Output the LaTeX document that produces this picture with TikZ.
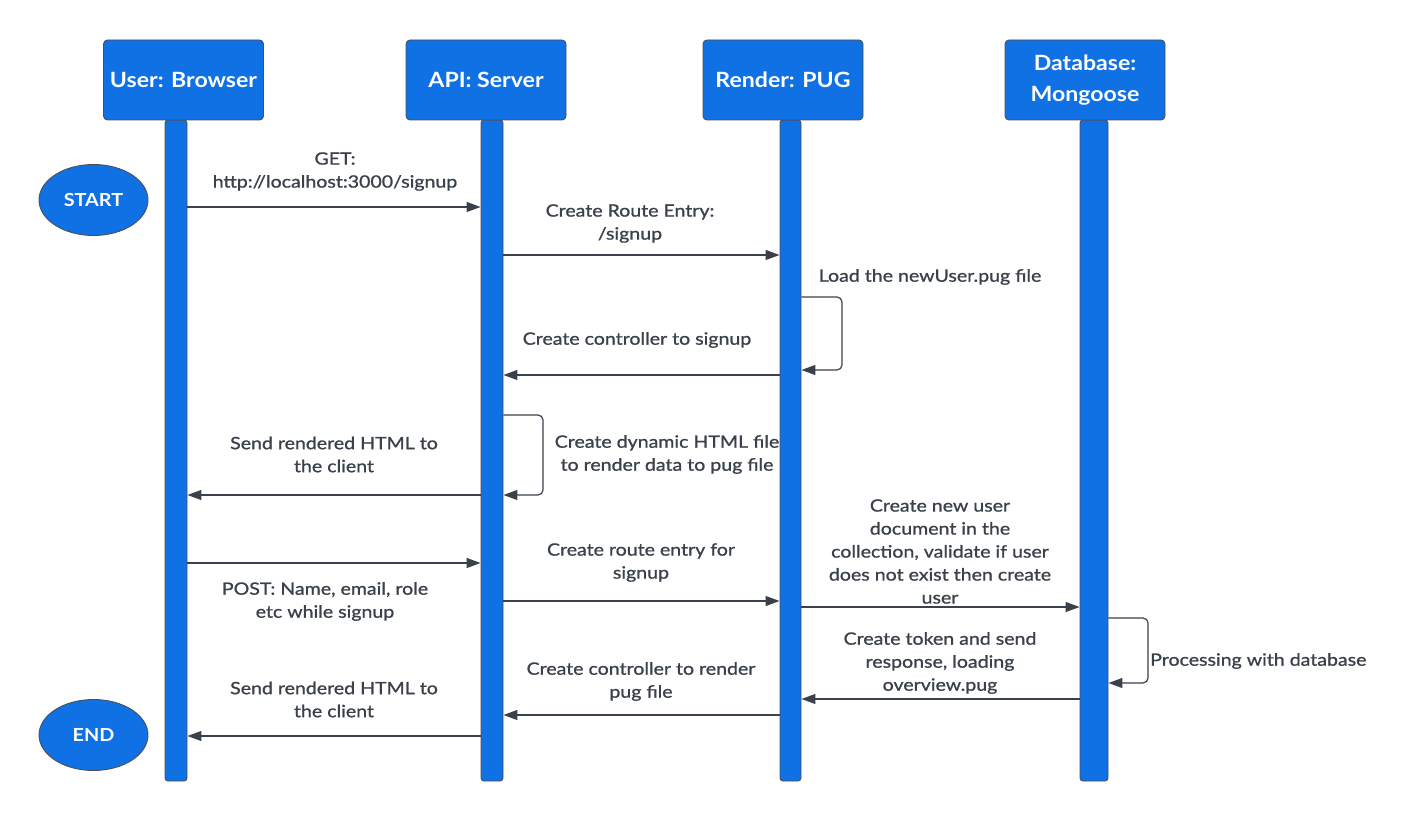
\documentclass[tikz,border=0pt]{standalone}
\usepackage{fontspec}
\setmainfont{Lato}
\newfontfamily\lblfont{Lato}[FakeStretch=1.15,FakeBold=1]
\newfontfamily\hdfont{Lato}[FakeStretch=1.1]
\usetikzlibrary{arrows.meta,shapes.geometric}
\definecolor{lblue}{HTML}{1071E5}
\definecolor{ink}{HTML}{3A414A}
\definecolor{rim}{HTML}{4A5058}
\tikzset{
  head/.style={draw=rim, line width=0.9pt, fill=lblue, rounded corners=4pt, minimum width=160pt, minimum height=80pt, text=white, align=center, font=\hdfont\fontsize{21}{31}\selectfont\bfseries, inner sep=0pt},
  lifebar/.style={draw=rim, line width=0.9pt, fill=lblue, rounded corners=3pt, minimum height=661pt, inner sep=0pt},
  term/.style={ellipse, draw=rim, line width=0.9pt, fill=lblue, minimum width=109pt, minimum height=71pt, text=white, font=\hdfont\fontsize{18}{22}\selectfont\bfseries, inner sep=0pt},
  msg/.style={draw=ink, line width=1.2pt, -{Triangle[length=14pt,width=10pt]}},
  loopmsg/.style={msg, rounded corners=5pt},
  lbl/.style={text=ink, align=center, font=\lblfont\fontsize{17}{23}\selectfont, inner sep=0pt},
}
\begin{document}
\begin{tikzpicture}[x=1pt,y=-1pt]
\useasboundingbox (0,0) rectangle (1418,821);
% lifeline bars
\node[lifebar, minimum width=22pt] (b1) at (176,450.5) {};
\node[lifebar, minimum width=22pt] (b2) at (492,450.5) {};
\node[lifebar, minimum width=21pt] (b3) at (790.5,450.5) {};
\node[lifebar, minimum width=28pt] (b4) at (1094,450.5) {};
% headers
\node[head] (h1) at (183.5,80) {User: Browser};
\node[head] (h2) at (486,80) {API: Server};
\node[head] (h3) at (783,80) {Render: PUG};
\node[head] (h4) at (1085,80) {Database:\\Mongoose};
% terminals
\node[term] (start) at (93.5,200) {START};
\node[term] (end) at (93.5,735) {END};
% messages
\draw[msg] (b1.east |- 0,207) -- (b2.west |- 0,207);
\node[lbl] (l1) at (335,171.5) {GET:\\http://localhost:3000/signup};
\draw[msg] (b2.east |- 0,255) -- (b3.west |- 0,255);
\node[lbl] (l2) at (630,223.5) {Create Route Entry:\\/signup};
\draw[loopmsg] (b3.east |- 0,297) -- (842,297) -- (842,370) -- (b3.east |- 0,370);
\node[lbl] (l3) at (930,277) {Load the newUser.pug file};
\draw[msg] (b3.west |- 0,375) -- (b2.east |- 0,375);
\node[lbl] (l4) at (637,340) {Create controller to signup};
\draw[loopmsg] (b2.east |- 0,415) -- (543,415) -- (543,495) -- (b2.east |- 0,495);
\node[lbl] (l5) at (667,454.5) {Create dynamic HTML file\\to render data to pug file};
\draw[msg] (b2.west |- 0,495) -- (b1.east |- 0,495);
\node[lbl] (l6) at (334,454.5) {Send rendered HTML to\\the client};
\draw[msg] (b1.east |- 0,563) -- (b2.west |- 0,563);
\node[lbl] (l7) at (325,601.5) {POST: Name, email, role\\etc while signup};
\draw[msg] (b2.east |- 0,601) -- (b3.west |- 0,601);
\node[lbl] (l8) at (641,562.5) {Create route entry for\\signup};
\draw[msg] (b3.east |- 0,607) -- (b4.west |- 0,607);
\node[lbl] (l9) at (940,551.5) {Create new user\\document in the\\collection, validate if user\\does not exist then create\\user};
\draw[loopmsg] (b4.east |- 0,618) -- (1148,618) -- (1148,683) -- (b4.east |- 0,683);
\node[lbl, anchor=west] (l10) at (1150,661) {Processing with database};
\draw[msg] (b4.west |- 0,699) -- (b3.east |- 0,699);
\node[lbl] (l11) at (940,663) {Create token and send\\response, loading\\overview.pug};
\draw[msg] (b3.west |- 0,715) -- (b2.east |- 0,715);
\node[lbl] (l12) at (641,681.5) {Create controller to render\\pug file};
\draw[msg] (b2.west |- 0,736) -- (b1.east |- 0,736);
\node[lbl] (l13) at (334,699.5) {Send rendered HTML to\\the client};
\end{tikzpicture}
\end{document}
